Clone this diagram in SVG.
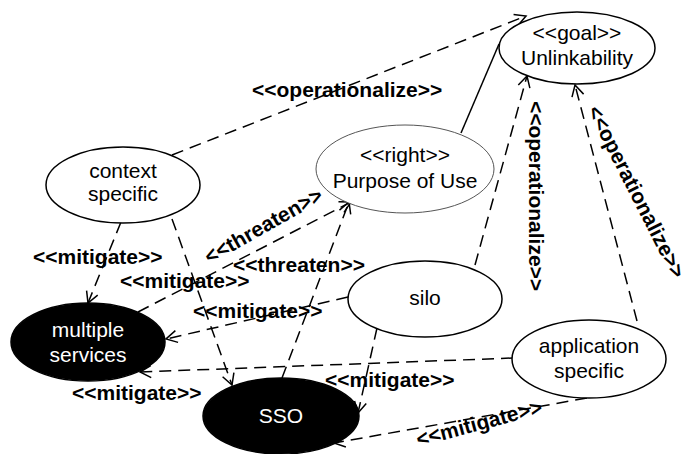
<svg xmlns="http://www.w3.org/2000/svg" width="689" height="454" viewBox="0 0 689 454">
  <style>
    .node { fill: #fff; stroke: #000; stroke-width: 1.5; }
    .dark { fill: #000; stroke: #000; stroke-width: 1.5; }
    .thin { fill: #fff; stroke: #555; stroke-width: 1; }
    .t { font-family: "Liberation Sans", Arial, sans-serif; font-size: 21px; text-anchor: middle; fill: #000; }
    .tw { fill: #fff; }
    .dep { fill: none; stroke: #000; stroke-width: 1.5; stroke-dasharray: 12 7; marker-end: url(#open); }
    .assoc { fill: none; stroke: #000; stroke-width: 1.5; }
    .lbl { font-family: "Liberation Sans", Arial, sans-serif; font-size: 21px; font-weight: bold; fill: #000; }
  </style>
  <defs>
    <marker id="open" viewBox="-13 -8 15 16" refX="0" refY="0" markerWidth="15" markerHeight="16" markerUnits="userSpaceOnUse" orient="auto">
      <path d="M-11,-6 L0,0 L-11,6" fill="none" stroke="#000" stroke-width="1.5"/>
    </marker>
  </defs>

  <rect width="689" height="454" fill="#fff"/>

  <!-- connectors -->
  <g id="connectors">
    <path class="dep" d="M172,155 L526,16"/>
    <text class="lbl" x="252" y="97">&lt;&lt;operationalize&gt;&gt;</text>

    <path class="assoc" d="M461,133 L499,44"/>

    <path class="dep" d="M475,265 L527,76"/>
    <text class="lbl" text-anchor="middle" transform="translate(529,196) rotate(90)">&lt;&lt;operationalize&gt;&gt;</text>

    <path class="dep" d="M637,321 L575,85"/>
    <text class="lbl" text-anchor="middle" font-size="19" transform="translate(630,195) rotate(63)">&lt;&lt;operationalize&gt;&gt;</text>

    <path class="dep" d="M121,222 L88,303"/>
    <text class="lbl" x="33" y="264">&lt;&lt;mitigate&gt;&gt;</text>

    <path class="dep" d="M172,219 L232,385"/>
    <text class="lbl" x="120" y="288">&lt;&lt;mitigate&gt;&gt;</text>

    <path class="dep" d="M138,312 L351,202"/>
    <text class="lbl" text-anchor="middle" transform="translate(267,232) rotate(-29.5)">&lt;&lt;threaten&gt;&gt;</text>

    <path class="dep" d="M282,378 L349,202"/>
    <text class="lbl" x="233" y="272">&lt;&lt;threaten&gt;&gt;</text>

    <path class="dep" d="M348,297 L166,339"/>
    <text class="lbl" x="193" y="318">&lt;&lt;mitigate&gt;&gt;</text>

    <path class="dep" d="M377,328 L358,413"/>
    <text class="lbl" x="325" y="387">&lt;&lt;mitigate&gt;&gt;</text>

    <path class="dep" d="M513,358 L140,372"/>
    <text class="lbl" x="72" y="400">&lt;&lt;mitigate&gt;&gt;</text>

    <path class="dep" d="M587,398 L334,443"/>
    <text class="lbl" text-anchor="middle" transform="translate(481,430) rotate(-15)">&lt;&lt;mitigate&gt;&gt;</text>
  </g>

  <!-- nodes -->
  <g id="goal-unlinkability">
    <ellipse class="node" cx="577" cy="48" rx="78" ry="36"/>
    <text class="t" x="577" y="40">&lt;&lt;goal&gt;&gt;</text>
    <text class="t" x="577" y="65">Unlinkability</text>
  </g>

  <g id="right-purpose-of-use">
    <ellipse class="thin" cx="405" cy="169" rx="89" ry="44"/>
    <text class="t" x="405" y="162">&lt;&lt;right&gt;&gt;</text>
    <text class="t" x="405" y="188">Purpose of Use</text>
  </g>

  <g id="context-specific">
    <ellipse class="node" cx="123" cy="185" rx="77" ry="38"/>
    <text class="t" x="123" y="178">context</text>
    <text class="t" x="123" y="201">specific</text>
  </g>

  <g id="multiple-services">
    <ellipse class="dark" cx="88" cy="342" rx="77" ry="39"/>
    <text class="t tw" x="88" y="337">multiple</text>
    <text class="t tw" x="88" y="362">services</text>
  </g>

  <g id="sso">
    <ellipse class="dark" cx="281" cy="416" rx="78" ry="38"/>
    <text class="t tw" x="281" y="423">SSO</text>
  </g>

  <g id="silo">
    <ellipse class="node" cx="425" cy="299" rx="77" ry="38"/>
    <text class="t" x="425" y="305">silo</text>
  </g>

  <g id="application-specific">
    <ellipse class="node" cx="589" cy="359" rx="77" ry="39"/>
    <text class="t" x="589" y="353">application</text>
    <text class="t" x="589" y="378">specific</text>
  </g>
</svg>
